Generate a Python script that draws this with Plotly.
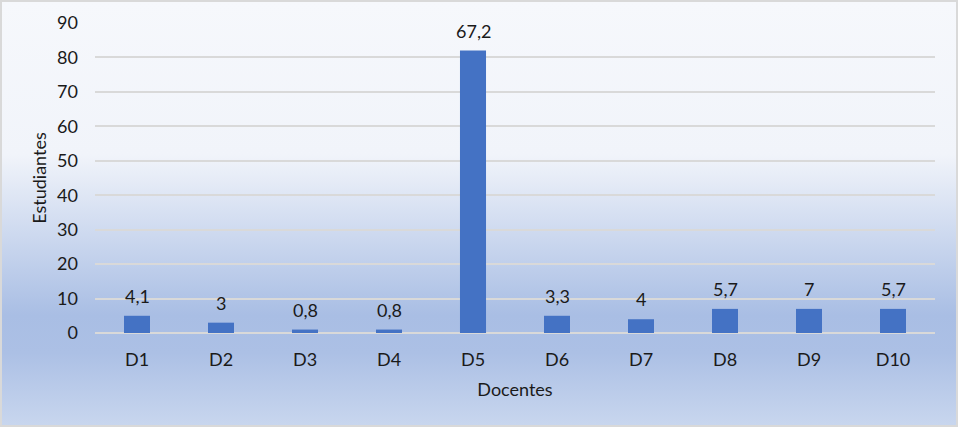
import base64
import plotly.graph_objects as go

categories = ["D1", "D2", "D3", "D4", "D5", "D6", "D7", "D8", "D9", "D10"]
counts = [5, 3, 1, 1, 82, 5, 4, 7, 7, 7]
labels = ["4,1", "3", "0,8", "0,8", "67,2", "3,3", "4", "5,7", "7", "5,7"]
y_ticks = [0, 10, 20, 30, 40, 50, 60, 70, 80, 90]

W, H = 958, 427
L, R, T, B = 95, 23, 23, 94
pw, ph = W - L - R, H - T - B

svg = f"""<svg xmlns='http://www.w3.org/2000/svg' width='{W}' height='{H}' viewBox='0 0 {W} {H}' preserveAspectRatio='none'>
<defs><linearGradient id='g' x1='0' y1='0' x2='0' y2='1'>
<stop offset='0' stop-color='#F6F8FC'/>
<stop offset='0.36' stop-color='#F1F4FA'/>
<stop offset='0.74' stop-color='#A9BEE4'/>
<stop offset='0.83' stop-color='#ACC0E5'/>
<stop offset='1' stop-color='#C8D6EE'/>
</linearGradient></defs>
<rect x='0' y='0' width='{W}' height='{H}' fill='#D9D9D9'/>
<rect x='2' y='2' width='{W-4}' height='{H-4}' fill='url(#g)'/>
</svg>"""
src = "data:image/svg+xml;base64," + base64.b64encode(svg.encode()).decode()

fig = go.Figure()
fig.add_trace(go.Bar(x=categories, y=counts, marker_color="#4472C4",
                     marker_line_width=0, hoverinfo="skip"))

for c, v, t in zip(categories, counts, labels):
    fig.add_annotation(x=c, y=v, text=t, showarrow=False, yanchor="bottom",
                       yshift=7, font=dict(size=18, color="#1A1A1A"))

fig.add_layout_image(dict(source=src, xref="paper", yref="paper",
                          x=-L / pw, y=1 + T / ph, sizex=W / pw, sizey=H / ph,
                          xanchor="left", yanchor="top", sizing="stretch",
                          layer="below"))

font_family = "Lato, Noto Sans, DejaVu Sans, sans-serif"
fig.update_layout(
    width=W, height=H,
    margin=dict(l=L, r=R, t=T, b=B, pad=0),
    paper_bgcolor="rgba(0,0,0,0)", plot_bgcolor="rgba(0,0,0,0)",
    font=dict(family=font_family, size=18, color="#1A1A1A"),
    bargap=0.69, showlegend=False,
    xaxis=dict(title=dict(text="Docentes", standoff=14, font=dict(size=18)),
               showgrid=False, showline=False, ticks="", ticklabelstandoff=14,
               tickfont=dict(size=18)),
    yaxis=dict(title=dict(text="Estudiantes", standoff=5, font=dict(size=18)),
               range=[0, 90], tickvals=y_ticks, showgrid=True,
               gridcolor="#D9D9D9", gridwidth=1.5, zeroline=True,
               zerolinecolor="#D9D9D9", zerolinewidth=1.5, showline=False,
               ticks="", ticklabelstandoff=16, tickfont=dict(size=18)),
)

fig.write_html("out.html", config={"displayModeBar": False},
               post_script="document.body.style.margin='0';document.body.style.padding='0';")
